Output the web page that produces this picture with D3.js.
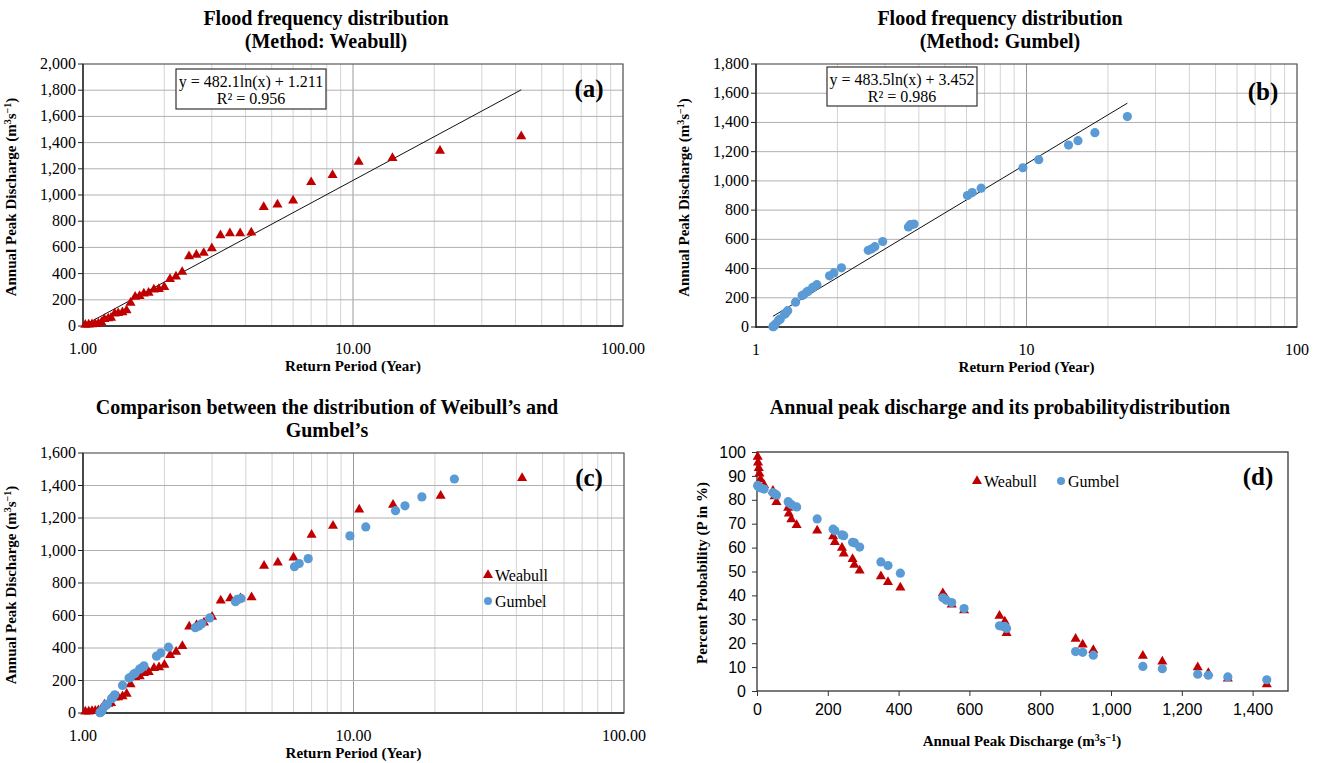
<!DOCTYPE html>
<html lang="en">
<head>
  <meta charset="UTF-8">
  <title>Flood frequency distribution</title>
  <script src="https://d3js.org/d3.v7.min.js"></script>
  <style>
    body { margin: 0; background: #fff; }
    svg { font-family: "Liberation Serif", "Times New Roman", serif; }
    .title { font-size: 20px; font-weight: bold; fill: #000; }
    .axis-title { font-size: 15px; font-weight: bold; fill: #000; }
    .tick-label { font-size: 16px; fill: #000; }
    .panel-tag { font-size: 25px; font-weight: bold; fill: #000; }
    .legend { font-size: 16px; fill: #000; }
  </style>
</head>
<body>
  <svg width="1320" height="763"></svg>

  <script>
    // caudal maximo anual (m3/s), ordenado de mayor a menor
    const discharge = [1440, 1330, 1275, 1245, 1145, 1090, 950, 920, 900, 705, 700, 700, 685,
      585, 550, 535, 525, 405, 370, 350, 290, 275, 270, 245, 240, 220, 215, 170, 112, 97, 90, 88,
      55, 50, 45, 20, 10, 7, 5, 3, 2];

    // periodo de retorno (años) - Weibull
    const weibullT = [42.00, 21.00, 14.00, 10.50, 8.40, 7.00, 6.00, 5.25, 4.67, 4.20, 3.82, 3.50,
      3.23, 3.00, 2.80, 2.63, 2.47, 2.33, 2.21, 2.10, 2.00, 1.91, 1.83, 1.75, 1.68, 1.62, 1.56, 1.50,
      1.45, 1.40, 1.35, 1.31, 1.27, 1.24, 1.20, 1.17, 1.14, 1.11, 1.08, 1.05, 1.02];

    // periodo de retorno (años) - Gumbel
    const gumbelT = [23.6, 17.9, 15.5, 14.3, 11.1, 9.7, 6.8, 6.3, 6.05, 3.84, 3.76, 3.72, 3.66,
      2.94, 2.75, 2.68, 2.60, 2.07, 1.94, 1.87, 1.68, 1.64, 1.62, 1.56, 1.54, 1.50, 1.48, 1.40,
      1.31, 1.29, 1.28, 1.275, 1.23, 1.22, 1.21, 1.18, 1.17, 1.165, 1.16, 1.16, 1.155];

    // probabilidad (%) - panel d
    const weibullP = [2.4, 4.8, 7.1, 9.5, 11.9, 14.3, 16.7, 19.0, 21.4, 23.8, 26.2, 28.6, 31.0,
      33.3, 35.7, 38.1, 40.5, 42.9, 45.2, 47.6, 50.0, 52.4, 54.8, 57.1, 59.5, 61.9, 64.3, 66.7,
      69.0, 71.4, 73.8, 76.2, 78.6, 81.0, 83.3, 85.7, 88.1, 90.5, 92.9, 95.2, 97.6];
    const gumbelP = [4.7, 5.9, 6.6, 7.0, 9.3, 10.3, 15.0, 16.2, 16.5, 26.2, 26.8, 27.0, 27.3,
      34.5, 37.0, 38.0, 39.0, 49.3, 52.5, 54.0, 60.2, 62.0, 62.2, 65.0, 65.3, 67.0, 67.7, 72.0,
      77.0, 78.0, 78.8, 79.2, 82.0, 82.5, 83.0, 84.5, 85.0, 85.2, 85.5, 85.7, 86.0];

    // lineas de tendencia (y = a ln(x) + b)
    const trendA = { a: 482.1, b: 1.211, eq: "y = 482.1ln(x) + 1.211", r2: "R² = 0.956" };
    const trendB = { a: 483.5, b: 3.452, eq: "y = 483.5ln(x) + 3.452", r2: "R² = 0.986" };

    const RED = "#C00000";
    const BLUE = "#5B9BD5";

    const svg = d3.select("svg");
    const triangle = d3.symbol().type(d3.symbolTriangle).size(44);

    function drawTriangles(g, xs, ys, x, y) {
      g.selectAll(null)
        .data(d3.zip(xs, ys))
        .enter().append("path")
        .attr("d", triangle)
        .attr("transform", d => `translate(${x(d[0])},${y(d[1]) - 1})`)
        .attr("fill", RED);
    }

    function drawCircles(g, xs, ys, x, y) {
      g.selectAll(null)
        .data(d3.zip(xs, ys))
        .enter().append("circle")
        .attr("cx", d => x(d[0]))
        .attr("cy", d => y(d[1]))
        .attr("r", 4.6)
        .attr("fill", BLUE);
    }

    function yTitle(g, cx, cy, main) {
      const t = g.append("text")
        .attr("class", "axis-title")
        .attr("text-anchor", "middle")
        .attr("transform", `translate(${cx},${cy}) rotate(-90)`);
      t.append("tspan").text(main + " (m");
      t.append("tspan").attr("baseline-shift", "super").attr("font-size", 10).text("3");
      t.append("tspan").text("s");
      t.append("tspan").attr("baseline-shift", "super").attr("font-size", 10).text("−1");
      t.append("tspan").text(")");
      return t;
    }

    function titleLines(g, cx, lines, y0, dy) {
      lines.forEach((s, i) => {
        g.append("text").attr("class", "title")
          .attr("x", cx).attr("y", y0 + i * dy)
          .attr("text-anchor", "middle")
          .text(s);
      });
    }

    // paneles con eje x logaritmico (a, b, c)
    function logPanel(cfg) {
      const g = svg.append("g");
      const x = d3.scaleLog().domain([1, 100]).range([cfg.left, cfg.right]);
      const y = d3.scaleLinear().domain([0, cfg.ymax]).range([cfg.bottom, cfg.top]);

      // rejilla vertical
      x.ticks().forEach(v => {
        const major = v === 10;
        g.append("line")
          .attr("x1", x(v)).attr("x2", x(v))
          .attr("y1", cfg.top).attr("y2", cfg.bottom)
          .attr("stroke", major ? "#9a9a9a" : "#d4d4d4")
          .attr("stroke-width", 1);
      });
      // rejilla horizontal
      d3.range(cfg.ystep, cfg.ymax, cfg.ystep).forEach(v => {
        g.append("line")
          .attr("x1", cfg.left).attr("x2", cfg.right)
          .attr("y1", y(v)).attr("y2", y(v))
          .attr("stroke", "#b0b0b0");
      });
      g.append("rect")
        .attr("x", cfg.left).attr("y", cfg.top)
        .attr("width", cfg.right - cfg.left).attr("height", cfg.bottom - cfg.top)
        .attr("fill", "none").attr("stroke", "#595959").attr("stroke-width", 1.2);
      g.append("line")
        .attr("x1", cfg.left).attr("x2", cfg.left)
        .attr("y1", cfg.top).attr("y2", cfg.bottom + 1)
        .attr("stroke", "#222").attr("stroke-width", 1.3);
      g.append("line")
        .attr("x1", cfg.left).attr("x2", cfg.right)
        .attr("y1", cfg.bottom).attr("y2", cfg.bottom)
        .attr("stroke", "#222").attr("stroke-width", 1.3);

      // etiquetas eje y
      d3.range(0, cfg.ymax + 1, cfg.ystep).forEach(v => {
        g.append("line")
          .attr("x1", cfg.left - 5).attr("x2", cfg.left)
          .attr("y1", y(v)).attr("y2", y(v))
          .attr("stroke", "#222");
        g.append("text").attr("class", "tick-label")
          .attr("x", cfg.left - 7).attr("y", y(v) + 5)
          .attr("text-anchor", "end")
          .text(d3.format(",")(v));
      });
      // etiquetas eje x
      [1, 10, 100].forEach(v => {
        g.append("text").attr("class", "tick-label")
          .attr("x", x(v)).attr("y", cfg.bottom + 28)
          .attr("text-anchor", "middle")
          .text(cfg.xfmt(v));
      });

      g.append("text").attr("class", "axis-title")
        .attr("x", (cfg.left + cfg.right) / 2).attr("y", cfg.bottom + 45)
        .attr("text-anchor", "middle")
        .text("Return Period (Year)");
      yTitle(g, cfg.left - 67, (cfg.top + cfg.bottom) / 2 + 2, "Annual Peak Discharge");

      titleLines(g, cfg.titleX, cfg.title, cfg.titleY, 23);

      g.append("text").attr("class", "panel-tag")
        .attr("x", cfg.tag[0]).attr("y", cfg.tag[1])
        .attr("text-anchor", "middle")
        .text(cfg.tagText);

      return { g, x, y };
    }

    function trendline(p, t, xs) {
      const ext = d3.extent(xs);
      const line = d3.line().x(d => p.x(d)).y(d => p.y(t.a * Math.log(d) + t.b));
      p.g.append("path")
        .attr("d", line(ext))
        .attr("fill", "none")
        .attr("stroke", "#111")
        .attr("stroke-width", 1);
    }

    function eqBox(p, t, bx, by, bw, bh) {
      p.g.append("rect")
        .attr("x", bx).attr("y", by).attr("width", bw).attr("height", bh)
        .attr("fill", "#fff").attr("stroke", "#333").attr("stroke-width", 1.2);
      p.g.append("text").attr("class", "legend")
        .attr("x", bx + bw / 2).attr("y", by + 18)
        .attr("text-anchor", "middle").text(t.eq);
      p.g.append("text").attr("class", "legend")
        .attr("x", bx + bw / 2).attr("y", by + 35)
        .attr("text-anchor", "middle").text(t.r2);
    }

    // (a) Weibull
    const pa = logPanel({
      left: 83, right: 623, top: 64, bottom: 326, ymax: 2000, ystep: 200,
      xfmt: d3.format(".2f"),
      title: ["Flood frequency  distribution", "(Method: Weabull)"], titleX: 326, titleY: 25,
      tag: [589, 97], tagText: "(a)"
    });
    trendline(pa, trendA, weibullT);
    eqBox(pa, trendA, 176, 69, 150, 40);
    drawTriangles(pa.g, weibullT, discharge, pa.x, pa.y);

    // (b) Gumbel
    const pb = logPanel({
      left: 756, right: 1297, top: 64, bottom: 327, ymax: 1800, ystep: 200,
      xfmt: d3.format("d"),
      title: ["Flood frequency  distribution", "(Method: Gumbel)"], titleX: 1000, titleY: 25,
      tag: [1263, 100], tagText: "(b)"
    });
    trendline(pb, trendB, gumbelT);
    eqBox(pb, trendB, 827, 67, 150, 39);
    drawCircles(pb.g, gumbelT, discharge, pb.x, pb.y);

    // (c) comparacion
    const pc = logPanel({
      left: 83, right: 624, top: 453, bottom: 713, ymax: 1600, ystep: 200,
      xfmt: d3.format(".2f"),
      title: ["Comparison between the distribution of Weibull’s and", "Gumbel’s"], titleX: 327, titleY: 414,
      tag: [589, 486], tagText: "(c)"
    });
    drawTriangles(pc.g, weibullT, discharge, pc.x, pc.y);
    drawCircles(pc.g, gumbelT, discharge, pc.x, pc.y);
    pc.g.append("path").attr("d", triangle).attr("transform", "translate(488,575)").attr("fill", RED);
    pc.g.append("text").attr("class", "legend").attr("x", 495).attr("y", 581).text("Weabull");
    pc.g.append("circle").attr("cx", 488).attr("cy", 601).attr("r", 4).attr("fill", BLUE);
    pc.g.append("text").attr("class", "legend").attr("x", 495).attr("y", 607).text("Gumbel");

    // (d) probabilidad vs caudal
    const gd = svg.append("g");
    const dL = 757, dR = 1288, dT = 452, dB = 691;
    const xd = d3.scaleLinear().domain([0, 1500]).range([dL, dR]);
    const yd = d3.scaleLinear().domain([0, 100]).range([dB, dT]);

    gd.append("rect")
      .attr("x", dL).attr("y", dT).attr("width", dR - dL).attr("height", dB - dT)
      .attr("fill", "none").attr("stroke", "#333").attr("stroke-width", 1.3);

    gd.append("g")
      .attr("transform", `translate(0,${dB})`)
      .call(d3.axisBottom(xd).tickValues(d3.range(0, 1401, 200)).tickSize(5).tickPadding(8).tickFormat(d3.format(",")))
      .call(a => a.select(".domain").remove())
      .call(a => a.selectAll("line").attr("stroke", "#333"))
      .call(a => a.selectAll("text").attr("class", "tick-label").attr("font-family", null).attr("font-size", null));
    gd.append("g")
      .attr("transform", `translate(${dL},0)`)
      .call(d3.axisLeft(yd).tickValues(d3.range(0, 101, 10)).tickSize(5).tickPadding(6))
      .call(a => a.select(".domain").remove())
      .call(a => a.selectAll("line").attr("stroke", "#333"))
      .call(a => a.selectAll("text").attr("class", "tick-label").attr("font-family", null).attr("font-size", null));

    drawTriangles(gd, discharge, weibullP, xd, yd);
    drawCircles(gd, discharge, gumbelP, xd, yd);

    gd.append("path").attr("d", triangle).attr("transform", "translate(977,481)").attr("fill", RED);
    gd.append("text").attr("class", "legend").attr("x", 984).attr("y", 487).text("Weabull");
    gd.append("circle").attr("cx", 1061).attr("cy", 481).attr("r", 4).attr("fill", BLUE);
    gd.append("text").attr("class", "legend").attr("x", 1068).attr("y", 487).text("Gumbel");

    gd.append("text").attr("class", "panel-tag")
      .attr("x", 1258).attr("y", 485).attr("text-anchor", "middle").text("(d)");

    titleLines(gd, 1000, ["Annual peak discharge and its probabilitydistribution"], 414, 23);

    const xt = gd.append("text").attr("class", "axis-title")
      .attr("x", 1022).attr("y", 746).attr("text-anchor", "middle");
    xt.append("tspan").text("Annual Peak Discharge (m");
    xt.append("tspan").attr("baseline-shift", "super").attr("font-size", 10).text("3");
    xt.append("tspan").text("s");
    xt.append("tspan").attr("baseline-shift", "super").attr("font-size", 10).text("−1");
    xt.append("tspan").text(")");

    gd.append("text").attr("class", "axis-title")
      .attr("text-anchor", "middle")
      .attr("transform", `translate(707,573) rotate(-90)`)
      .text("Percent Probability (P in %)");
  </script>
</body>
</html>
